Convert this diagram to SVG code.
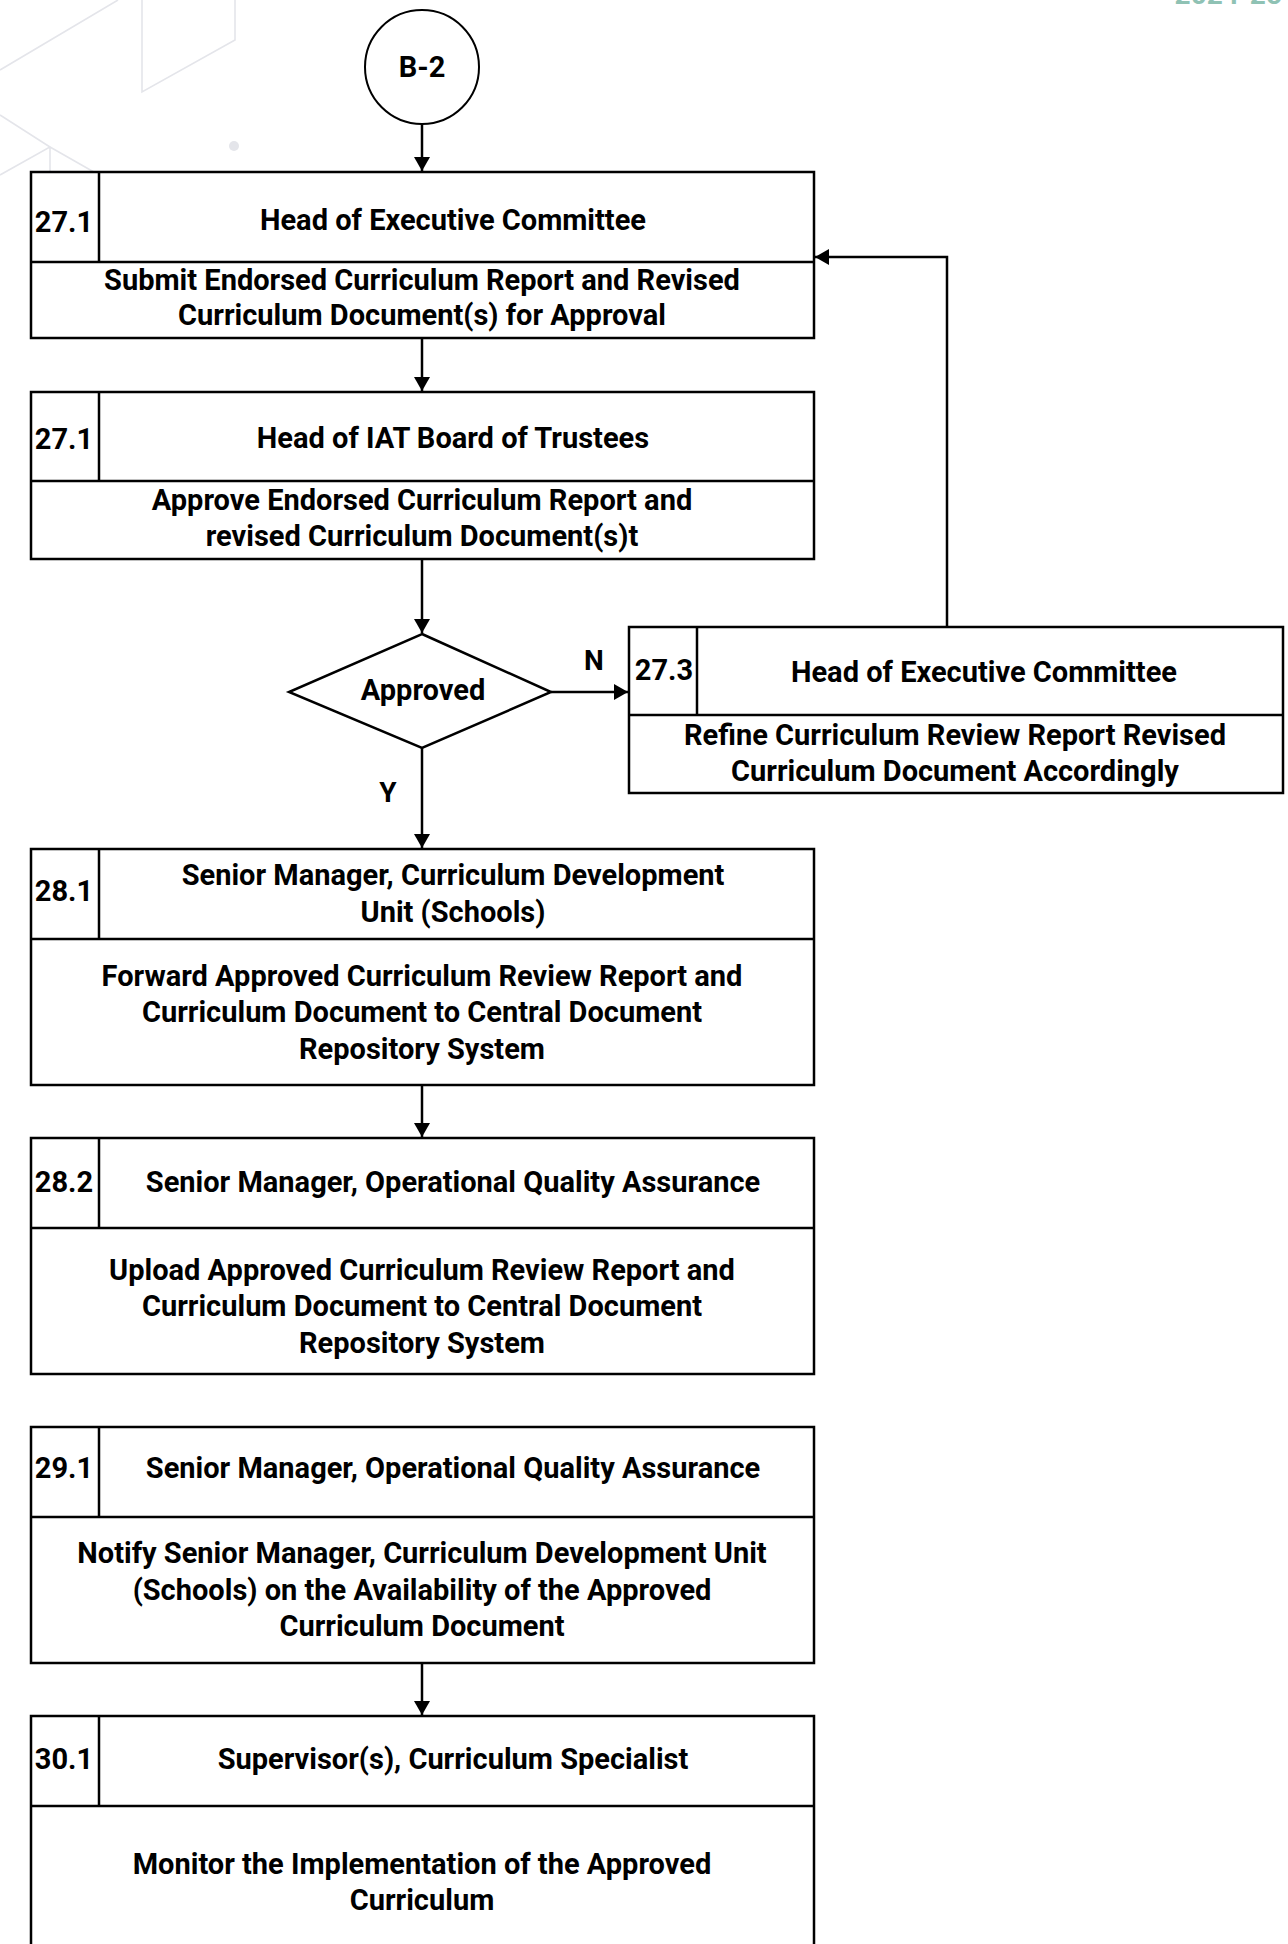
<svg xmlns="http://www.w3.org/2000/svg" width="1288" height="1944" viewBox="0 0 1288 1944">
<style>
.bg{fill:none;stroke:#e4e5ea;stroke-width:1.6}
.box{fill:#ffffff;stroke:#000000;stroke-width:2.5}
.ln{stroke:#000000;stroke-width:2.5}
.t{font-family:Roboto,"Liberation Sans",sans-serif;font-weight:700;font-size:29px;fill:#000000;text-anchor:middle}
.con{fill:none;stroke:#000000;stroke-width:2.5}
.lbl{font-family:Roboto,"Liberation Sans",sans-serif;font-weight:700;font-size:28px;fill:#000000;text-anchor:middle}
</style>
<defs>
<marker id="ah" markerUnits="userSpaceOnUse" markerWidth="18" markerHeight="18" refX="14" refY="8" orient="auto">
<path d="M0,0 L14,8 L0,16 Z" fill="#000000"/>
</marker>
</defs>
<rect width="1288" height="1944" fill="#ffffff"/>
<g id="background">
<path class="bg" d="M0,70 L118,0 M142,0 L142,92 L235,40 L235,0 M0,115 L50,147 L0,175 M50,147 L50,250 L143,307 L143,200 L50,147"/>
<circle cx="234" cy="146" r="5" fill="#e4e5ea"/>
<text x="1282" y="4" font-family="Roboto,'Liberation Sans',sans-serif" font-weight="700" font-size="28" fill="#8fc2b4" text-anchor="end">2024-25</text>
</g>
<g id="connectors">
<line class="con" x1="422" y1="124" x2="422" y2="171" marker-end="url(#ah)"/>
<line class="con" x1="422" y1="338" x2="422" y2="391" marker-end="url(#ah)"/>
<line class="con" x1="422" y1="559" x2="422" y2="633" marker-end="url(#ah)"/>
<line class="con" x1="551" y1="692" x2="628" y2="692" marker-end="url(#ah)"/>
<polyline class="con" points="947,626 947,257 815,257" marker-end="url(#ah)"/>
<line class="con" x1="422" y1="748" x2="422" y2="848" marker-end="url(#ah)"/>
<line class="con" x1="422" y1="1085" x2="422" y2="1137" marker-end="url(#ah)"/>
<line class="con" x1="422" y1="1663" x2="422" y2="1715" marker-end="url(#ah)"/>
<text class="lbl" x="594" y="670">N</text>
<text class="lbl" x="388" y="802">Y</text>
</g>
<g id="b2">
<circle cx="422" cy="67" r="57" fill="#ffffff" stroke="#000000" stroke-width="2"/>
<text class="t" x="422" y="77" font-size="27">B-2</text>
</g>
<g id="n27_1a">
<rect class="box" x="31" y="172" width="783" height="166"/>
<line class="ln" x1="31" y1="262" x2="814" y2="262"/>
<line class="ln" x1="99" y1="172" x2="99" y2="262"/>
<text class="t" x="64" y="232">27.1</text>
<text class="t" x="453" y="230">Head of Executive Committee</text>
<text class="t" x="422" y="290">Submit Endorsed Curriculum Report and Revised</text>
<text class="t" x="422" y="325">Curriculum Document(s) for Approval</text>
</g>
<g id="n27_1b">
<rect class="box" x="31" y="392" width="783" height="167"/>
<line class="ln" x1="31" y1="481" x2="814" y2="481"/>
<line class="ln" x1="99" y1="392" x2="99" y2="481"/>
<text class="t" x="64" y="449">27.1</text>
<text class="t" x="453" y="448">Head of IAT Board of Trustees</text>
<text class="t" x="422" y="510">Approve Endorsed Curriculum Report and</text>
<text class="t" x="422" y="546">revised Curriculum Document(s)t</text>
</g>
<g id="decision">
<polygon points="422,634 551,692 422,748 289,692" fill="#ffffff" stroke="#000000" stroke-width="2.5"/>
<text class="t" x="423" y="700">Approved</text>
</g>
<g id="n27_3">
<rect class="box" x="629" y="627" width="654" height="166"/>
<line class="ln" x1="629" y1="715" x2="1283" y2="715"/>
<line class="ln" x1="697" y1="627" x2="697" y2="715"/>
<text class="t" x="664" y="680">27.3</text>
<text class="t" x="984" y="682">Head of Executive Committee</text>
<text class="t" x="955" y="745">Refine Curriculum Review Report Revised</text>
<text class="t" x="955" y="781">Curriculum Document Accordingly</text>
</g>
<g id="n28_1">
<rect class="box" x="31" y="849" width="783" height="236"/>
<line class="ln" x1="31" y1="939" x2="814" y2="939"/>
<line class="ln" x1="99" y1="849" x2="99" y2="939"/>
<text class="t" x="64" y="901">28.1</text>
<text class="t" x="453" y="885">Senior Manager, Curriculum Development</text>
<text class="t" x="453" y="922">Unit (Schools)</text>
<text class="t" x="422" y="986">Forward Approved Curriculum Review Report and</text>
<text class="t" x="422" y="1022">Curriculum Document to Central Document</text>
<text class="t" x="422" y="1059">Repository System</text>
</g>
<g id="n28_2">
<rect class="box" x="31" y="1138" width="783" height="236"/>
<line class="ln" x1="31" y1="1228" x2="814" y2="1228"/>
<line class="ln" x1="99" y1="1138" x2="99" y2="1228"/>
<text class="t" x="64" y="1192">28.2</text>
<text class="t" x="453" y="1192">Senior Manager, Operational Quality Assurance</text>
<text class="t" x="422" y="1280">Upload Approved Curriculum Review Report and</text>
<text class="t" x="422" y="1316">Curriculum Document to Central Document</text>
<text class="t" x="422" y="1353">Repository System</text>
</g>
<g id="n29_1">
<rect class="box" x="31" y="1427" width="783" height="236"/>
<line class="ln" x1="31" y1="1517" x2="814" y2="1517"/>
<line class="ln" x1="99" y1="1427" x2="99" y2="1517"/>
<text class="t" x="64" y="1478">29.1</text>
<text class="t" x="453" y="1478">Senior Manager, Operational Quality Assurance</text>
<text class="t" x="422" y="1563">Notify Senior Manager, Curriculum Development Unit</text>
<text class="t" x="422" y="1600">(Schools) on the Availability of the Approved</text>
<text class="t" x="422" y="1636">Curriculum Document</text>
</g>
<g id="n30_1">
<rect class="box" x="31" y="1716" width="783" height="250"/>
<line class="ln" x1="31" y1="1806" x2="814" y2="1806"/>
<line class="ln" x1="99" y1="1716" x2="99" y2="1806"/>
<text class="t" x="64" y="1769">30.1</text>
<text class="t" x="453" y="1769">Supervisor(s), Curriculum Specialist</text>
<text class="t" x="422" y="1874">Monitor the Implementation of the Approved</text>
<text class="t" x="422" y="1910">Curriculum</text>
</g>
</svg>
